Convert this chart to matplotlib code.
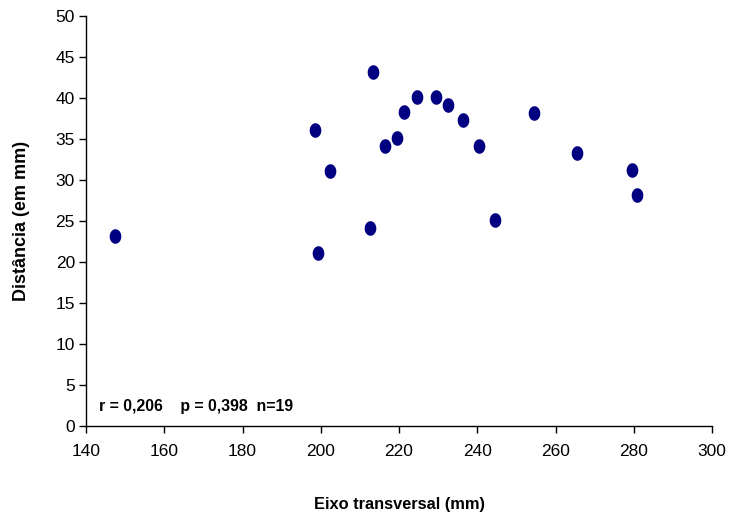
import matplotlib
matplotlib.use("Agg")
import matplotlib.pyplot as plt
import numpy as np
from matplotlib.path import Path

# data
eixo = [147.4, 198.5, 199.3, 202.4, 212.6, 213.4, 216.4, 219.5, 221.3, 224.6,
        229.5, 232.5, 236.4, 240.4, 244.5, 254.5, 265.5, 279.6, 280.8]
distancia = [23.2, 36.1, 21.1, 31.1, 24.1, 43.2, 34.1, 35.1, 38.3, 40.1,
             40.1, 39.1, 37.3, 34.1, 25.1, 38.2, 33.3, 31.2, 28.2]
xticks = [140, 160, 180, 200, 220, 240, 260, 280, 300]
yticks = [0, 5, 10, 15, 20, 25, 30, 35, 40, 45, 50]
stats_text = "r = 0,206    p = 0,398  n=19"

plt.rcParams['font.family'] = ['Liberation Sans', 'DejaVu Sans']

# slightly tall ellipse marker
t = np.linspace(0, 2 * np.pi, 60)
ellipse = Path(np.column_stack([0.8 * np.cos(t), np.sin(t)]), closed=True)

fig = plt.figure(figsize=(7.31, 5.21), dpi=100)
ax = fig.add_axes([86 / 731, 95 / 521, 626 / 731, 410 / 521])

ax.scatter(eixo, distancia, marker=ellipse, s=110, color="#000080", linewidths=0, zorder=3)

ax.set_xlim(140, 300)
ax.set_ylim(0, 50)
ax.set_xticks(xticks)
ax.set_yticks(yticks)
ax.tick_params(axis="both", direction="out", length=5, width=1, labelsize=12.5, pad=3)
ax.tick_params(axis="x", pad=8)
for s in ["top", "right"]:
    ax.spines[s].set_visible(False)
for s in ["left", "bottom"]:
    ax.spines[s].set_linewidth(1)

ax.set_xlabel("Eixo transversal (mm)", fontsize=11.75, fontweight="bold", labelpad=27)
ax.set_ylabel("Distância (em mm)", fontsize=13, fontweight="bold", labelpad=18)

ax.text(143.3, 2.4, stats_text, fontsize=11.4, fontweight="bold", va="center", ha="left")

fig.savefig("out.png", dpi=100)
